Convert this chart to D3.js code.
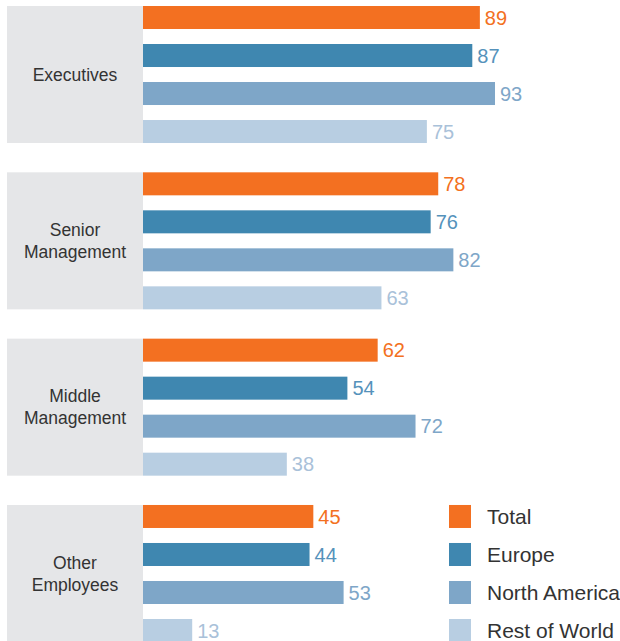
<!DOCTYPE html>
<html>
<head>
<meta charset="utf-8">
<script src="https://cdn.jsdelivr.net/npm/d3@7"></script>
<style>
  html, body { margin: 0; padding: 0; background: #fff; }
  svg { display: block; }
  text { font-family: "Liberation Sans", Arial, sans-serif; }
</style>
</head>
<body>
<svg id="chart" width="620" height="641"></svg>
<script>
// Employee groups (rows) and regional series
const categories = [
  ["Executives"],
  ["Senior", "Management"],
  ["Middle", "Management"],
  ["Other", "Employees"]
];
const seriesNames = ["Total", "Europe", "North America", "Rest of World"];
const total        = [89, 78, 62, 45];
const europe       = [87, 76, 54, 44];
const northAmerica = [93, 82, 72, 53];
const restOfWorld  = [75, 63, 38, 13];

const seriesValues = [total, europe, northAmerica, restOfWorld];
const barColors   = ["#f37021", "#3f87b0", "#7ea6c8", "#b8cee2"];
const labelColors = ["#f37021", "#5592bb", "#7ea6c8", "#a9c1d9"];

const svg = d3.select("#chart");

const panelLeft = 7, barLeft = 143;

const y = d3.scaleBand()
  .domain(d3.range(categories.length))
  .range([6, 642])
  .paddingInner(29.3 / 166.3)
  .paddingOuter(0);

const yInner = d3.scaleBand()
  .domain(d3.range(seriesNames.length))
  .range([0, y.bandwidth()])
  .paddingInner(15 / 38)
  .paddingOuter(0);

const x = d3.scaleLinear().domain([0, 100]).range([barLeft, barLeft + 378.5]);

const groups = svg.selectAll("g.group")
  .data(categories)
  .join("g")
  .attr("class", "group")
  .attr("transform", (d, i) => `translate(0,${y(i)})`);

// Grey label panel behind each group
groups.append("rect")
  .attr("x", panelLeft)
  .attr("y", 0)
  .attr("width", barLeft - panelLeft)
  .attr("height", y.bandwidth())
  .attr("fill", "#e5e6e8");

// Group label, centered in the panel
groups.append("text")
  .attr("text-anchor", "middle")
  .attr("font-size", 17.5)
  .attr("fill", "#333")
  .each(function(lines) {
    const t = d3.select(this);
    const lh = 22;
    const cy = y.bandwidth() / 2;
    lines.forEach((line, k) => {
      t.append("tspan")
        .attr("x", (panelLeft + barLeft) / 2)
        .attr("y", cy + (k - (lines.length - 1) / 2) * lh)
        .attr("dy", "0.36em")
        .text(line);
    });
  });

// Bars and value labels
groups.each(function(_, gi) {
  const g = d3.select(this);
  const rows = seriesValues.map((vals, si) => ({ si, v: vals[gi] }));
  g.selectAll("rect.bar")
    .data(rows)
    .join("rect")
    .attr("class", "bar")
    .attr("x", x(0))
    .attr("y", d => yInner(d.si))
    .attr("width", d => x(d.v) - x(0))
    .attr("height", yInner.bandwidth())
    .attr("fill", d => barColors[d.si]);
  g.selectAll("text.val")
    .data(rows)
    .join("text")
    .attr("class", "val")
    .attr("x", d => x(d.v) + 5)
    .attr("y", d => yInner(d.si) + yInner.bandwidth() / 2)
    .attr("dy", "0.36em")
    .attr("font-size", 20)
    .attr("fill", d => labelColors[d.si])
    .text(d => d.v);
});

// Legend aligned with the last group's rows
const last = categories.length - 1;
const legend = svg.append("g")
  .attr("transform", `translate(449,${y(last)})`);
const items = legend.selectAll("g")
  .data(seriesNames)
  .join("g")
  .attr("transform", (d, i) => `translate(0,${yInner(i)})`);
items.append("rect")
  .attr("width", 22)
  .attr("height", yInner.bandwidth())
  .attr("fill", (d, i) => barColors[i]);
items.append("text")
  .attr("x", 38)
  .attr("y", yInner.bandwidth() / 2)
  .attr("dy", "0.36em")
  .attr("font-size", 21)
  .attr("fill", "#333")
  .text(d => d);
</script>
</body>
</html>
